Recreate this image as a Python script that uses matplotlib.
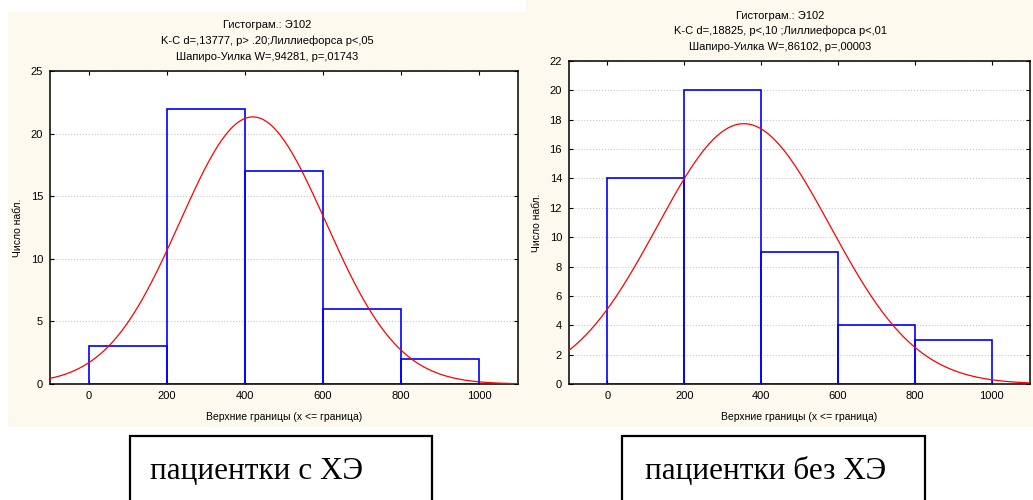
import numpy as np
import matplotlib
matplotlib.use("Agg")
import matplotlib.pyplot as plt
from matplotlib.patches import Rectangle

W, H, DPI = 1033, 500, 100

# ---- data ----
bin_lefts = [0, 200, 400, 600, 800]
bin_width = 200
counts_left = [3, 22, 17, 6, 2]
counts_right = [14, 20, 9, 4, 3]
mean_left, sd_left = 420, 187
mean_right, sd_right = 355, 225
titles_left = ["Гистограм.: Э102",
               "K-C d=,13777, p> .20;Лиллиефорса p<,05",
               "Шапиро-Уилка W=,94281, p=,01743"]
titles_right = ["Гистограм.: Э102",
                "K-C d=,18825, p<,10 ;Лиллиефорса p<,01",
                "Шапиро-Уилка W=,86102, p=,00003"]
xticks = [0, 200, 400, 600, 800, 1000]
yticks_left = [0, 5, 10, 15, 20, 25]
yticks_right = [0, 2, 4, 6, 8, 10, 12, 14, 16, 18, 20, 22]
xlabel = "Верхние границы (x <= граница)"
ylabel = "Число набл."
captions = ["пациентки с ХЭ", "пациентки без ХЭ"]

plt.rcParams['font.family'] = ['Liberation Sans', 'DejaVu Sans']

fig = plt.figure(figsize=(W / DPI, H / DPI), dpi=DPI)
fig.patch.set_facecolor('white')

def frac_rect(x0, y0, x1, y1):
    return [x0 / W, 1 - y1 / H, (x1 - x0) / W, (y1 - y0) / H]

def ftext(x, y, s, **kw):
    fig.text(x / W, 1 - y / H, s, **kw)

cream = '#FDF9EF'
# panel backgrounds
for (x0, y0, x1, y1) in [(8, 12, 526, 427), (526, 0, 1033, 427)]:
    fig.patches.append(Rectangle((x0 / W, 1 - y1 / H), (x1 - x0) / W, (y1 - y0) / H,
                                 transform=fig.transFigure, facecolor=cream,
                                 edgecolor='none', zorder=-10))

panels = [
    dict(ax=(50, 71, 518, 384), counts=counts_left, mean=mean_left, sd=sd_left,
         titles=titles_left, tcx=267, tys=(25, 41, 57), yticks=yticks_left,
         ylim=25, ylx=18, xly=417),
    dict(ax=(569, 61, 1030, 384), counts=counts_right, mean=mean_right, sd=sd_right,
         titles=titles_right, tcx=780, tys=(16, 31, 47), yticks=yticks_right,
         ylim=22, ylx=537, xly=417),
]

for p in panels:
    x0, y0, x1, y1 = p['ax']
    ax = fig.add_axes(frac_rect(x0, y0, x1, y1))
    ax.set_facecolor('white')
    ax.bar(bin_lefts, p['counts'], width=bin_width, align='edge', fill=False,
           edgecolor='#0000FF', linewidth=1.2, zorder=3)
    n = sum(p['counts'])
    xs = np.linspace(-100, 1100, 400)
    ys = n * bin_width / (p['sd'] * np.sqrt(2 * np.pi)) * np.exp(-0.5 * ((xs - p['mean']) / p['sd']) ** 2)
    ax.plot(xs, ys, color='#FF0000', linewidth=0.9, zorder=4)
    ax.set_xlim(-100, 1100)
    ax.set_ylim(0, p['ylim'])
    ax.set_xticks(xticks)
    ax.set_yticks(p['yticks'])
    ax.grid(axis='y', color='#C8C8C8', linestyle=':', linewidth=0.8, zorder=1)
    ax.set_axisbelow(True)
    ax.tick_params(direction='in', length=3, width=0.8, top=True, right=True,
                   labelsize=8, pad=5)
    for s in ax.spines.values():
        s.set_linewidth(1.1)
        s.set_color('black')
    cx = (x0 + x1) / 2
    for t, ty in zip(p['titles'], p['tys']):
        ftext(p['tcx'], ty, t, ha='center', va='center', fontsize=8)
    ftext(p['ylx'], (y0 + y1) / 2, ylabel, ha='center', va='center', rotation=90, fontsize=7.5)
    ftext(cx, p['xly'], xlabel, ha='center', va='center', fontsize=7.5)

# caption boxes
for (bx0, bx1, tx), cap in zip([(130, 432, 150), (622, 925, 645)], captions):
    fig.patches.append(Rectangle((bx0 / W, 1 - 520 / H), (bx1 - bx0) / W, (520 - 436) / H,
                                 transform=fig.transFigure, facecolor='white',
                                 edgecolor='black', linewidth=1.6, zorder=1))
    ftext(tx, 479, cap, ha='left', va='baseline', fontsize=22.5,
          family=['Liberation Serif', 'DejaVu Serif'])

fig.savefig('out.png', dpi=DPI)
